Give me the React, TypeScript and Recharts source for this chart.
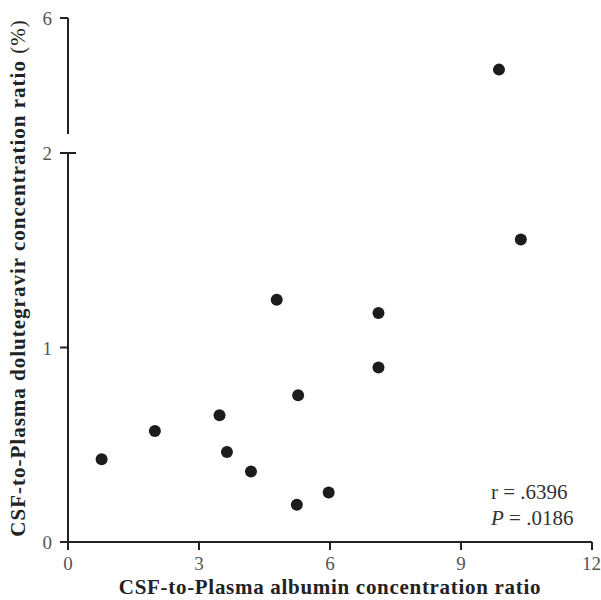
import { ScatterChart, Scatter, XAxis, YAxis } from 'recharts';

// albumin ratio (x) vs dolutegravir ratio in % (y)
const albuminRatio = [0.77, 1.99, 3.47, 3.64, 4.19, 4.78, 5.24, 5.27, 5.97, 7.11, 7.11, 9.87, 10.37];
const dtgRatio = [0.426, 0.571, 0.652, 0.463, 0.362, 1.246, 0.192, 0.755, 0.254, 1.177, 0.897, 5.11, 1.555];

const xTicks = [0, 3, 6, 9, 12];
const upperTicks = [4, 6];
const lowerTicks = [0, 1, 2];
const upperDomain: [number, number] = [4, 6];
const lowerDomain: [number, number] = [0, 2];

const stats = ['r = .6396', '.0186'];
const xTitle = 'CSF-to-Plasma albumin concentration ratio';
const yTitle = 'CSF-to-Plasma dolutegravir concentration ratio';

const points = albuminRatio.map((x, i) => ({ x, y: dtgRatio[i] }));
const upperPoints = points.filter((p) => p.y >= upperDomain[0]);
const lowerPoints = points.filter((p) => p.y <= lowerDomain[1]);

const FONT = '"Liberation Serif", "DejaVu Serif", serif';
const AXIS = '#222';
const TICK_SIZE = 8;
const TICK_MARGIN = 8;
const TICK_FONT = 19;
const TITLE_FONT = 21;
const TITLE_SPACING = 0.7;

const dot = (props: any) => <circle cx={props.cx} cy={props.cy} r={6} fill="#1c1c1c" />;

function YTick(props: any) {
  const { x, y, payload, brk } = props;
  const axisX = x + TICK_MARGIN + TICK_SIZE;
  return (
    <g>
      <text x={x} y={y} dy={7} textAnchor="end" fontFamily={FONT} fontSize={TICK_FONT} fill="#555">
        {payload.value}
      </text>
      {brk && <line x1={axisX} x2={axisX + 8} y1={y} y2={y} stroke={AXIS} strokeWidth={2} />}
    </g>
  );
}

function YTitle(props: any) {
  const { viewBox } = props;
  const cx = viewBox.x + 25;
  const cy = viewBox.y + 125;
  return (
    <text
      x={cx}
      y={cy}
      transform={`rotate(-90 ${cx} ${cy})`}
      textAnchor="middle"
      fontFamily={FONT}
      fontSize={TITLE_FONT}
      fontWeight="bold"
      letterSpacing={1}
      fill="#222"
    >
      {yTitle} <tspan fontWeight="normal">(%)</tspan>
    </text>
  );
}

export default function App() {
  return (
    <div style={{ position: 'absolute', left: 0, top: 0, width: 601, height: 600, background: '#fff' }}>
      <div style={{ position: 'absolute', left: 0, top: 0 }}>
        <ScatterChart width={601} height={600} margin={{ top: 153, right: 9, bottom: 0, left: 0 }}>
          <XAxis
            type="number"
            dataKey="x"
            domain={[0, 12]}
            ticks={xTicks}
            height={58}
            tickSize={TICK_SIZE}
            tickMargin={7}
            axisLine={{ stroke: AXIS, strokeWidth: 2 }}
            tickLine={{ stroke: AXIS, strokeWidth: 2 }}
            tick={{ fontFamily: FONT, fontSize: TICK_FONT, fill: '#555' }}
            label={{
              value: xTitle,
              position: 'insideBottom',
              offset: 6,
              style: {
                fontFamily: FONT,
                fontSize: TITLE_FONT,
                fontWeight: 'bold',
                fill: '#222',
                letterSpacing: TITLE_SPACING,
              },
            }}
          />
          <YAxis
            type="number"
            dataKey="y"
            domain={lowerDomain}
            ticks={lowerTicks}
            width={68}
            tickSize={TICK_SIZE}
            tickMargin={TICK_MARGIN}
            axisLine={{ stroke: AXIS, strokeWidth: 2 }}
            tickLine={{ stroke: AXIS, strokeWidth: 2 }}
            tick={(p: any) => <YTick {...p} brk={p.payload.value === 2} />}
            label={<YTitle />}
          />
          <Scatter data={lowerPoints} shape={dot} isAnimationActive={false} />
        </ScatterChart>
      </div>
      <div style={{ position: 'absolute', left: 0, top: 0 }}>
        <ScatterChart width={601} height={140} margin={{ top: 18, right: 9, bottom: 6, left: 0 }}>
          <XAxis type="number" dataKey="x" domain={[0, 12]} ticks={xTicks} hide />
          <YAxis
            type="number"
            dataKey="y"
            domain={upperDomain}
            ticks={upperTicks}
            width={68}
            tickSize={TICK_SIZE}
            tickMargin={TICK_MARGIN}
            axisLine={{ stroke: AXIS, strokeWidth: 2 }}
            tickLine={{ stroke: AXIS, strokeWidth: 2 }}
            tick={(p: any) => <YTick {...p} brk={p.payload.value === 4} />}
          />
          <Scatter data={upperPoints} shape={dot} isAnimationActive={false} />
        </ScatterChart>
      </div>
      <div
        style={{
          position: 'absolute',
          left: 491,
          top: 479,
          fontFamily: FONT,
          fontSize: 21,
          lineHeight: '26px',
          color: '#333',
          whiteSpace: 'nowrap',
        }}
      >
        <div>{stats[0]}</div>
        <div>
          <i>P</i> = {stats[1]}
        </div>
      </div>
    </div>
  );
}
